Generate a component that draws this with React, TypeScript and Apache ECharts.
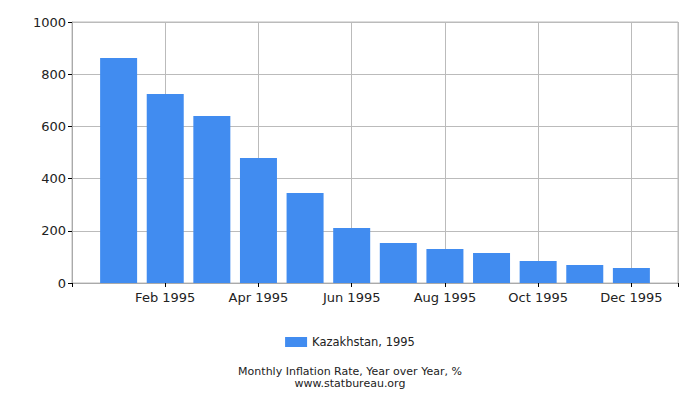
import React, { useEffect, useRef } from 'react';
import * as echarts from 'echarts';

const months = [
  'Jan 1995', 'Feb 1995', 'Mar 1995', 'Apr 1995', 'May 1995', 'Jun 1995',
  'Jul 1995', 'Aug 1995', 'Sep 1995', 'Oct 1995', 'Nov 1995', 'Dec 1995',
];
const inflation = [862, 724, 640, 479, 345, 211, 153, 130, 115, 84, 69, 57];
const seriesName = 'Kazakhstan, 1995';
const yTicks = { min: 0, max: 1000, step: 200 };
const titleLines = ['Monthly Inflation Rate, Year over Year, %', 'www.statbureau.org'];

const FONT = 'DejaVu Sans';

const App: React.FC = () => {
  const chartRef = useRef<HTMLDivElement>(null);

  useEffect(() => {
    document.body.style.margin = '0';
    if (!chartRef.current) return;
    const chart = echarts.init(chartRef.current, undefined, { renderer: 'svg' });

    // month position = index + 1, axis padded by one month each side
    const points = inflation.map((v, i) => [i + 1, v]);

    chart.setOption({
      animation: false,
      textStyle: { fontFamily: FONT },
      grid: {
        left: 72,
        right: 22,
        top: 22,
        bottom: 117,
        show: true,
        borderColor: '#bbbbbb',
        borderWidth: 1,
      },
      xAxis: {
        type: 'value',
        min: 0,
        max: months.length + 1,
        interval: 2,
        axisLine: { show: true, lineStyle: { color: '#aaaaaa' } },
        axisTick: { show: true, length: 4, lineStyle: { color: '#000' } },
        splitLine: { show: true, lineStyle: { color: '#bbbbbb' } },
        axisLabel: {
          fontFamily: FONT,
          fontSize: 13,
          color: '#222',
          margin: 8,
          formatter: (v: number) => (v >= 1 && v <= months.length ? months[v - 1] : ''),
        },
      },
      yAxis: {
        type: 'value',
        min: yTicks.min,
        max: yTicks.max,
        interval: yTicks.step,
        axisLine: { show: true, lineStyle: { color: '#aaaaaa' } },
        axisTick: { show: true, length: 4, lineStyle: { color: '#000' } },
        splitLine: { show: true, lineStyle: { color: '#bbbbbb' } },
        axisLabel: {
          fontFamily: FONT,
          fontSize: 13,
          color: '#222',
          margin: 6,
          formatter: (v: number) => String(v),
        },
      },
      legend: {
        top: 331,
        left: 'center',
        itemWidth: 22,
        itemHeight: 10,
        itemGap: 4,
        icon: 'rect',
        textStyle: { fontFamily: FONT, fontSize: 11.5, color: '#222' },
        data: [seriesName],
      },
      graphic: titleLines.map((line, i) => ({
        type: 'text',
        left: 'center',
        top: 366 + i * 11.5,
        style: {
          text: line,
          font: `11px "${FONT}"`,
          fill: '#222',
        },
      })),
      series: [
        {
          name: seriesName,
          type: 'bar',
          data: points,
          barWidth: 37,
          itemStyle: { color: '#418cf0' },
        },
      ],
    });

    return () => {
      chart.dispose();
    };
  }, []);

  return <div ref={chartRef} style={{ width: '700px', height: '400px' }} />;
};

export default App;
